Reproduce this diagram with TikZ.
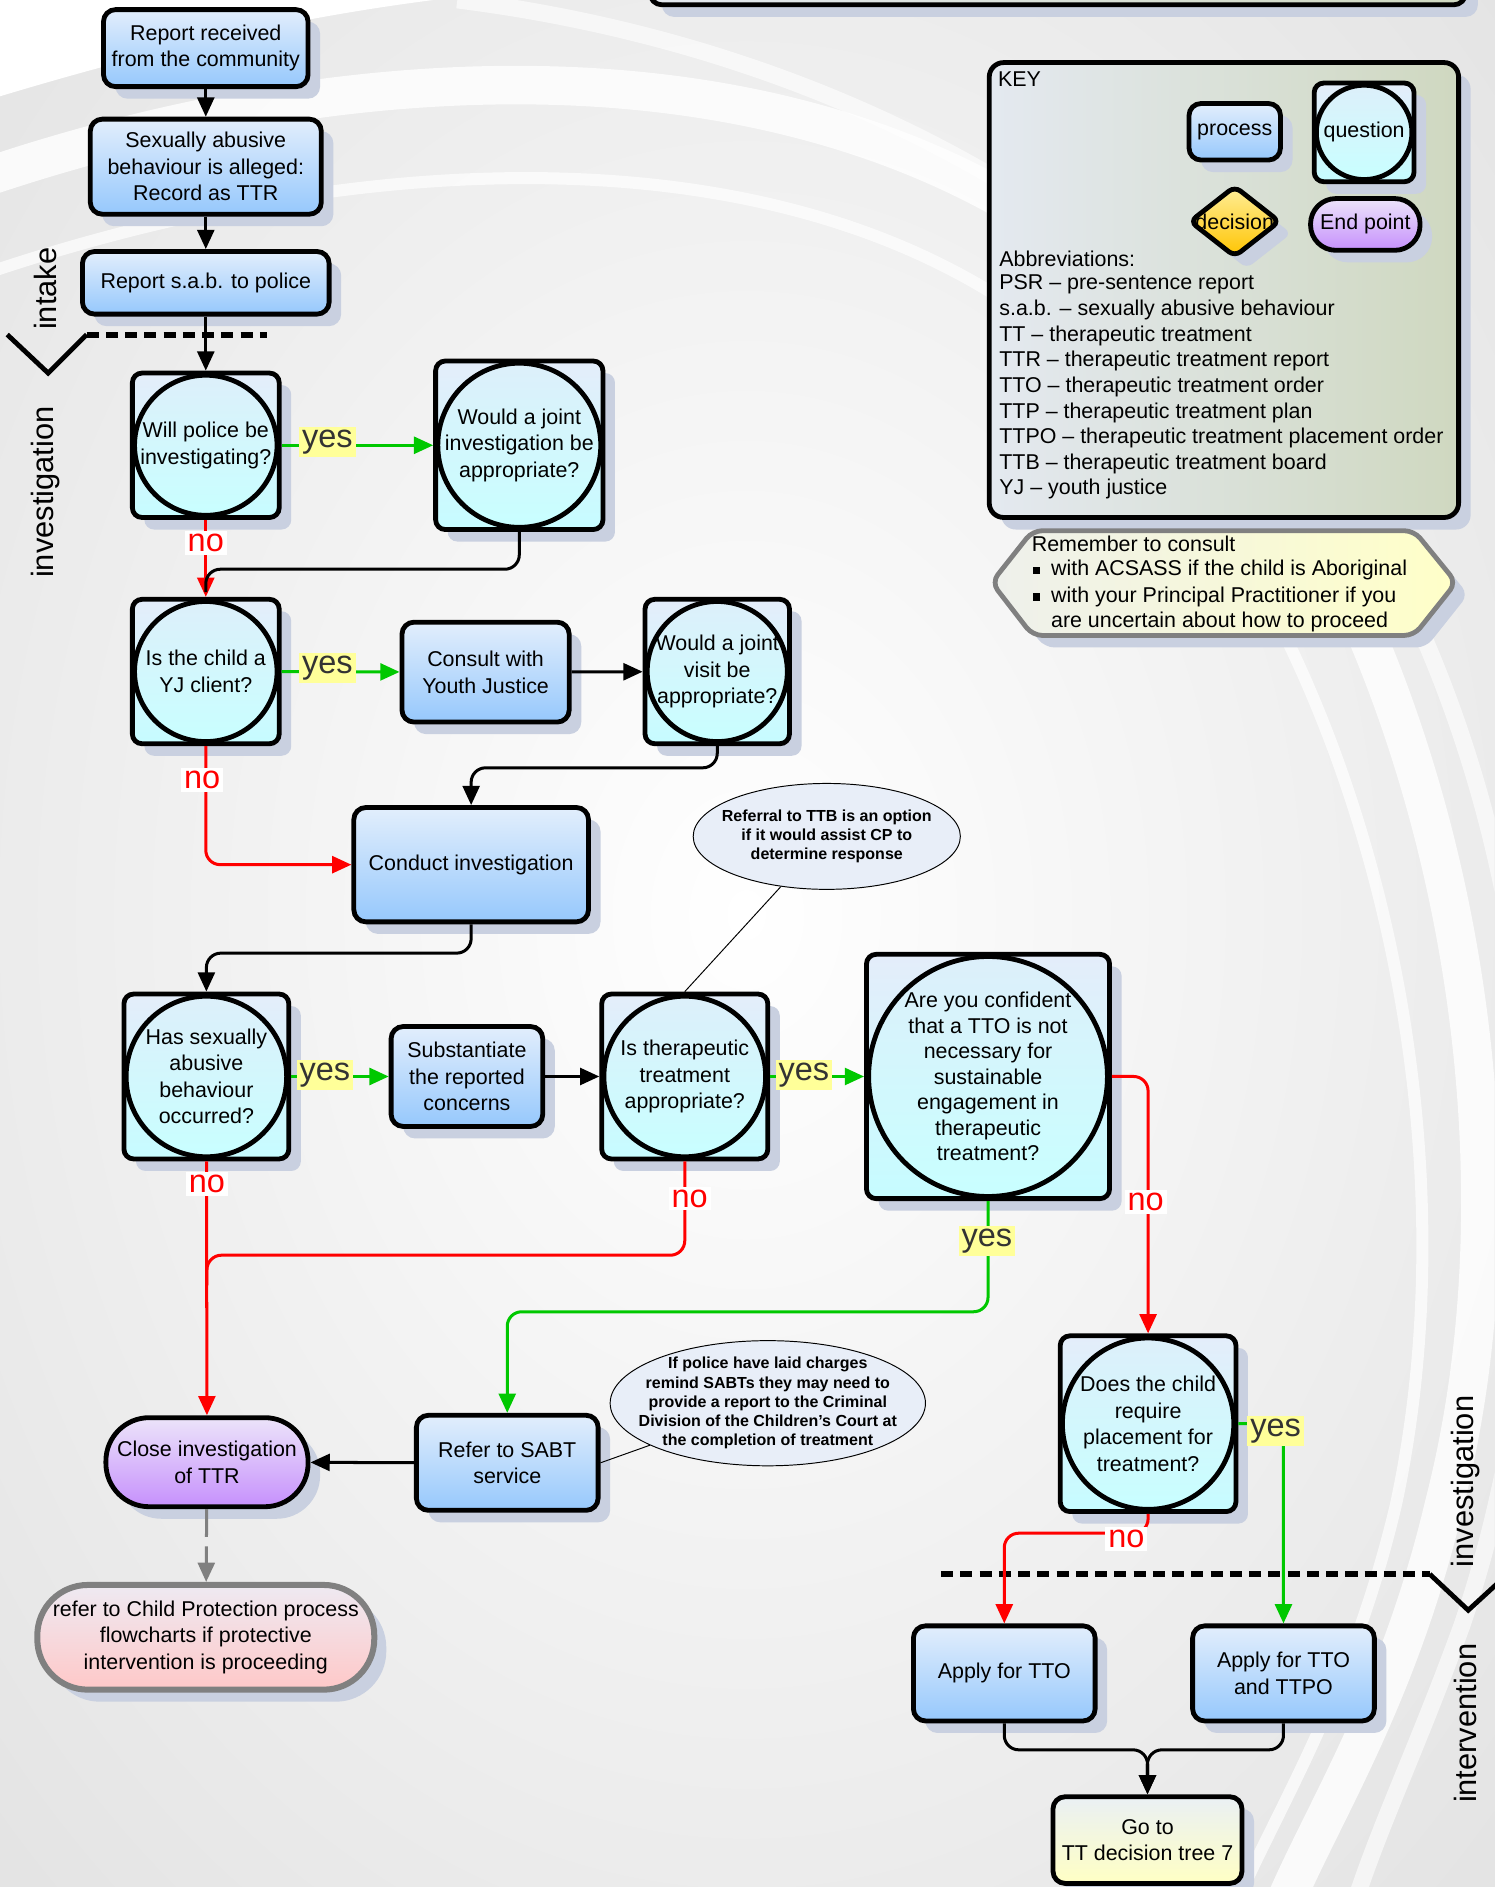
\documentclass[tikz,border=0pt]{standalone}
\usepackage{fontspec}
\setmainfont{Liberation Sans}
\usetikzlibrary{shapes.geometric,arrows.meta,shadows,calc}
\definecolor{bgc}{HTML}{E4E4E4}
\definecolor{shadowc}{HTML}{C9D0E0}
\definecolor{procA}{HTML}{E2EEFC}
\definecolor{procB}{HTML}{96C8FC}
\definecolor{qA}{HTML}{E4EDFA}
\definecolor{qB}{HTML}{C6FCFF}
\definecolor{cA}{HTML}{DDEFFA}
\definecolor{cB}{HTML}{C8FFFF}
\definecolor{endA}{HTML}{ECE4FA}
\definecolor{endB}{HTML}{C690FC}
\definecolor{cpA}{HTML}{EEEAF2}
\definecolor{cpB}{HTML}{FFC8C8}
\definecolor{goA}{HTML}{EAF0F4}
\definecolor{goB}{HTML}{FFFFC4}
\definecolor{decA}{HTML}{FFEE99}
\definecolor{decB}{HTML}{FFC400}
\definecolor{keyA}{HTML}{E4E9F0}
\definecolor{keyB}{HTML}{CFD8C0}
\definecolor{noteA}{HTML}{EEF0EC}
\definecolor{noteB}{HTML}{FFFFC8}
\definecolor{calA}{HTML}{E8EEF8}
\definecolor{yesbg}{HTML}{FFFF99}
\definecolor{gr}{HTML}{00C800}
\definecolor{rd}{HTML}{FF0000}
\definecolor{gy}{HTML}{808080}
\newcommand\nodefnt{\fontsize{8.9}{11}\selectfont}
\newcommand\keyfnt{\fontsize{8.9}{10.65}\selectfont}
\newcommand\labfnt{\fontsize{13.5}{13.5}\selectfont}
\newcommand\calfnt{\bfseries\fontsize{6.65}{8}\selectfont}
\newcommand\sidefnt{\fontsize{12.8}{13}\selectfont}
\begin{document}
\begin{tikzpicture}[x=0.5pt,y=-0.5pt,
  shd/.style={general shadow={fill=shadowc, shadow xshift=5pt, shadow yshift=-5pt}},
  box/.style={shd, draw=black, line width=2pt, rounded corners=5pt, align=center, inner sep=2pt, font=\nodefnt},
  proc/.style n args={2}{box, top color=procA, bottom color=procB, minimum width=#1, minimum height=#2},
  quest/.style n args={2}{box, rounded corners=4pt, top color=qA, bottom color=qB, minimum width=#1, minimum height=#2,
    path picture={\draw[line width=2pt, top color=cA, bottom color=cB] (path picture bounding box.center) ellipse [x radius={0.5*#1-0.9pt}, y radius={0.5*#2-0.9pt}];}},
  endpt/.style={box, top color=endA, bottom color=endB},
  cpnode/.style={box, draw=gy, line width=2.5pt, top color=cpA, bottom color=cpB, minimum width=140pt, minimum height=43.5pt, rounded corners=21pt},
  gonode/.style={box, top color=goA, bottom color=goB, minimum width=78.5pt, minimum height=36pt},
  callout/.style={ellipse, draw=black, line width=0.4pt, fill=calA, inner sep=0pt},
  caltext/.style={align=center, font=\calfnt, inner sep=0pt},
  conn/.style={line width=1.25pt, -{Triangle[length=8pt,width=7pt]}},
  blk/.style={conn, color=black},
  blkline/.style={line width=1.25pt, color=black},
  grn/.style={conn, color=gr},
  red/.style={conn, color=rd},
  redline/.style={line width=1.25pt, color=rd},
  rc/.style={rounded corners=6pt},
  yeslab/.style={fill=yesbg, text=black!80, inner sep=1.2pt, font=\labfnt},
  nolab/.style={fill=white, text=rd, inner sep=1.2pt, font=\labfnt},
  sep/.style={line width=2.5pt, dash pattern=on 5pt off 3pt},
  vmark/.style={line width=2pt},
  side/.style={rotate=90, font=\sidefnt, inner sep=0pt},
  keytxt/.style={anchor=west, font=\keyfnt, inner sep=0pt}
]
\useasboundingbox (0,0) rectangle (1242,1568);
% ---------- background ----------
\fill[bgc] (0,0) rectangle (1242,1568);
\begin{scope}
\clip (0,0) rectangle (1242,1568);
\shade[inner color=white, outer color=bgc] (620,760) ellipse [x radius=430pt, y radius=560pt];
\fill[white] (0,0) -- (0,80) .. controls (100,50) and (220,18) .. (360,0) -- cycle;
\draw[white, line width=16pt, opacity=0.8] (-20,150) .. controls (300,40) and (700,20) .. (950,250) .. controls (1170,450) and (1290,900) .. (1200,1250) .. controls (1160,1420) and (1090,1520) .. (1060,1600);
\draw[white, line width=5pt, opacity=0.7] (-20,230) .. controls (300,120) and (680,100) .. (900,300) .. controls (1110,480) and (1235,900) .. (1160,1250) .. controls (1120,1420) and (1050,1520) .. (1020,1600);
\draw[white, line width=7pt, opacity=0.6] (380,0) .. controls (700,40) and (1000,200) .. (1160,480) .. controls (1300,760) and (1300,1100) .. (1215,1350) .. controls (1175,1460) and (1140,1530) .. (1120,1600);
\end{scope}
% ---------- top partial box ----------
\path[shd, draw=black, line width=2pt, rounded corners=5pt, left color=keyA, right color=keyB] (540,-30) rectangle (1218,4);
% ---------- separators ----------
\draw[vmark] (6,278) -- (40,310) -- (72,278);
\draw[sep] (72,278) -- (222,278);
\draw[sep] (782,1308) -- (1188,1308);
\draw[vmark] (1188,1308) -- (1220,1338) -- (1244,1316);
\node[side] (sl1) at (38,240) {intake};
\node[side] (sl2) at (38,409) {investigation};
\node[side] (sl3) at (1218,1231) {investigation};
\node[side] (sl4) at (1218,1432) {intervention};
% ---------- KEY ----------
\path[shd, draw=black, line width=2pt, rounded corners=6pt, left color=keyA, right color=keyB] (822,52) rectangle (1212,430);
\node[keytxt] (keyt) at (829,66) {KEY};
\node[proc={38pt}{23.5pt}, font=\keyfnt] (kp) at (1026,109.5) {process};
\node[quest={41.5pt}{41pt}, font=\keyfnt, inner sep=0pt] (kq) at (1133.5,110) {question};
\coordinate (kdc) at (1026,184);
\path[shd, draw=black, line width=2pt, rounded corners=3pt, top color=decA, bottom color=decB] ($(kdc)+(-37,0)$) -- ($(kdc)+(0,-29)$) -- ($(kdc)+(37,0)$) -- ($(kdc)+(0,29)$) -- cycle;
\node[font=\keyfnt, inner sep=0pt] (kd) at (kdc) {decision};
\node[endpt, font=\keyfnt, minimum width=45.5pt, minimum height=21.5pt, rounded corners=10.5pt] (ke) at (1134.5,186.5) {End point};
\foreach \t [count=\i] in {Abbreviations:,PSR – pre-sentence report,s.a.b. – sexually abusive behaviour,TT – therapeutic treatment,TTR – therapeutic treatment report,TTO – therapeutic treatment order,TTP – therapeutic treatment plan,TTPO – therapeutic treatment placement order,TTB – therapeutic treatment board,YJ – youth justice}
  \node[keytxt] (ab\i) at (830,{215+21.3*(\i-1)}) {\t};
% ---------- reminder note ----------
\path[shd, draw=gy, line width=2pt, rounded corners=4pt, left color=noteA, right color=noteB] (824,484) -- (858,441) -- (1175,441) -- (1210,484) -- (1175,528) -- (858,528) -- cycle;
\node[keytxt] (rm1) at (857,452) {Remember to consult};
\node[keytxt] (rm2) at (873,474) {with ACSASS if the child is Aboriginal};
\node[keytxt] (rm3) at (873,496) {with your Principal Practitioner if you};
\node[keytxt] (rm4) at (873,517) {are uncertain about how to proceed};
\fill[black] (858,471) rectangle (864,477);
\fill[black] (858,493) rectangle (864,499);
% ---------- flow nodes ----------
\node[proc={85pt}{32pt}] (r1) at (171,40) {Report received\\from the community};
\node[proc={96pt}{39.5pt}] (r2) at (171,138.5) {Sexually abusive\\behaviour is alleged:\\Record as TTR};
\node[proc={102.5pt}{26pt}] (r3) at (171,235) {Report s.a.b. to police};
\node[quest={61pt}{60pt}] (q1) at (171,370) {Will police be\\investigating?};
\node[quest={69.5pt}{70pt}] (q2) at (431.5,370) {Would a joint\\investigation be\\appropriate?};
\node[quest={61pt}{60pt}] (q3) at (171,558) {Is the child a\\YJ client?};
\node[proc={69.5pt}{41.5pt}] (yj) at (403.5,558.5) {Consult with\\Youth Justice};
\node[quest={60pt}{60pt}] (q4) at (596,558) {Would a joint\\visit be\\appropriate?};
\node[proc={97.5pt}{47.5pt}] (ci) at (391.5,718.5) {Conduct investigation};
\node[quest={68.5pt}{68.5pt}] (q5) at (171.5,894.5) {Has sexually\\abusive\\behaviour\\occurred?};
\node[proc={63pt}{41.5pt}] (sub) at (388,894.5) {Substantiate\\the reported\\concerns};
\node[quest={69pt}{68.5pt}] (q6) at (569,894.5) {Is therapeutic\\treatment\\appropriate?};
\node[quest={101pt}{101.5pt}, font=\fontsize{8.9}{10.6}\selectfont] (q7) at (821,894.5) {Are you confident\\that a TTO is not\\necessary for\\sustainable\\engagement in\\therapeutic\\treatment?};
\node[endpt, minimum width=84pt, minimum height=37pt, rounded corners=18pt] (cl) at (172,1215) {Close investigation\\of TTR};
\node[proc={75.5pt}{39.5pt}] (sb) at (421.5,1215.5) {Refer to SABT\\service};
\node[cpnode] (cp) at (171,1360.5) {refer to Child Protection process\\flowcharts if protective\\intervention is proceeding};
\node[quest={73pt}{73pt}] (q8) at (954,1183) {Does the child\\require\\placement for\\treatment?};
\node[proc={75.5pt}{39.5pt}] (a1) at (834.5,1390.5) {Apply for TTO};
\node[proc={75.5pt}{39.5pt}] (a2) at (1066.5,1390.5) {Apply for TTO\\and TTPO};
\node[gonode] (go) at (953.5,1529) {Go to\\TT decision tree 7};
% ---------- callouts ----------
\node[callout, minimum width=111pt, minimum height=44pt] (c1) at (687,695) {};
\node[caltext] (c1t) at (c1) {Referral to TTB is an option\\if it would assist CP to\\determine response};
\node[callout, minimum width=131pt, minimum height=52pt] (c2) at (638,1166) {};
\node[caltext] (c2t) at (c2) {If police have laid charges\\remind SABTs they may need to\\provide a report to the Criminal\\Division of the Children’s Court at\\the completion of treatment};
\draw[line width=0.4pt] (c1) -- (q6.north);
\draw[line width=0.4pt] (c2) -- (sb.east);
% ---------- connectors ----------
\coordinate (j1) at (171,492);
\coordinate (j2) at (172,1068);
\draw[blk] (r1) -- (r2);
\draw[blk] (r2) -- (r3);
\draw[blk] (r3) -- (q1);
\draw[grn] (q1) -- (q2);
\draw[red] (q1) -- (q3);
\draw[blkline, rc] (q2.south) -- ++(0,31) -| (j1);
\draw[grn] (q3) -- (yj);
\draw[blk] (yj) -- (q4);
\draw[blk, rc] (q4.south) -- ++(0,18) -| (ci.north);
\draw[red, rc] (q3.south) |- (ci.west);
\draw[blk, rc] (ci.south) -- ++(0,24) -| (q5.north);
\draw[grn] (q5) -- (sub);
\draw[blk] (sub) -- (q6);
\draw[grn] (q6) -- (q7);
\draw[red] (q5) -- (cl);
\draw[redline, rc] (q6.south) -- ++(0,78) -| (j2);
\draw[grn, rc] (q7.south) -- ++(0,92) -| (sb.north);
\draw[red, rc] (q7.east) -| (q8.north);
\draw[blk] (sb) -- (cl);
\draw[conn, color=gy, dash pattern=on 11.5pt off 4pt] (cl) -- (cp);
\draw[grn, rc] (q8.east) -| (a2.north);
\draw[red, rc] (q8.south) -- ++(0,16) -| (a1.north);
\draw[blk, rc] (a1.south) -- ++(0,22) -| (go.north);
\draw[blk, rc] (a2.south) -- ++(0,22) -| (go.north);
% ---------- labels ----------
\node[yeslab] (y1) at (272,367) {yes};
\node[nolab] (n1) at (171,451) {no};
\node[yeslab] (y2) at (272,555) {yes};
\node[nolab] (n2) at (168,648) {no};
\node[yeslab] (y3) at (270,893) {yes};
\node[nolab] (n3) at (172,984) {no};
\node[yeslab] (y4) at (668,893) {yes};
\node[nolab] (n4) at (573,996) {no};
\node[yeslab] (y5) at (820,1031) {yes};
\node[nolab] (n5) at (952,999) {no};
\node[yeslab] (y6) at (1060,1189) {yes};
\node[nolab] (n6) at (936,1279) {no};
\end{tikzpicture}
\end{document}
